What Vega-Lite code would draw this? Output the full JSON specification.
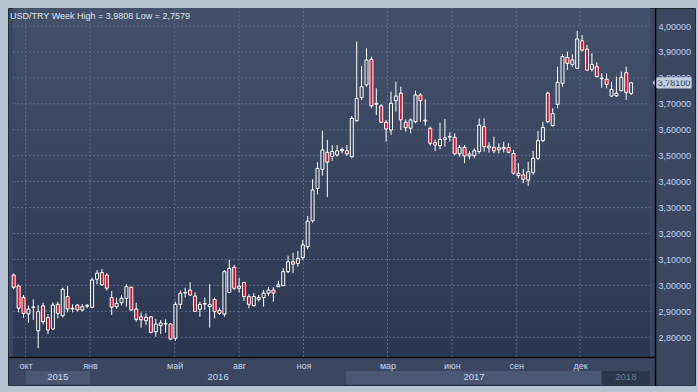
{
  "$schema": "https://vega.github.io/schema/vega-lite/v6.json",
  "width": 687,
  "height": 377,
  "autosize": {"type": "none"},
  "padding": {"left": 8, "top": 8, "right": 3, "bottom": 7},
  "background": "#b7c3d3",
  "config": {
    "view": {"fill": "#3b4761", "stroke": "#222c3b", "strokeWidth": 1},
    "font": "Liberation Sans",
    "text": {"font": "Liberation Sans"},
    "axis": {"labelOverlap": false, "labelSeparation": 0, "labelBound": false}
  },
  "title": {
    "text": "USD/TRY Week High = 3,9808 Low = 2,7579",
    "anchor": "start",
    "frame": "group",
    "offset": -13,
    "dx": 2,
    "fontSize": 9,
    "fontWeight": "normal",
    "font": "Liberation Sans",
    "color": "#dbe4f2"
  },
  "datasets": {
    "weekly": [
      {"date": "2015-09-14", "open": 3.040, "high": 3.046, "low": 2.985, "close": 2.993},
      {"date": "2015-09-21", "open": 2.998, "high": 3.004, "low": 2.896, "close": 2.912},
      {"date": "2015-09-28", "open": 2.954, "high": 2.963, "low": 2.875, "close": 2.892},
      {"date": "2015-10-05", "open": 2.890, "high": 2.922, "low": 2.856, "close": 2.909},
      {"date": "2015-10-12", "open": 2.915, "high": 2.946, "low": 2.867, "close": 2.917},
      {"date": "2015-10-19", "open": 2.825, "high": 2.924, "low": 2.7579, "close": 2.899},
      {"date": "2015-10-26", "open": 2.921, "high": 2.933, "low": 2.850, "close": 2.860},
      {"date": "2015-11-02", "open": 2.876, "high": 2.889, "low": 2.812, "close": 2.828},
      {"date": "2015-11-09", "open": 2.832, "high": 2.935, "low": 2.828, "close": 2.924},
      {"date": "2015-11-16", "open": 2.927, "high": 2.937, "low": 2.873, "close": 2.892},
      {"date": "2015-11-23", "open": 2.883, "high": 2.991, "low": 2.877, "close": 2.985},
      {"date": "2015-11-30", "open": 2.957, "high": 2.998, "low": 2.896, "close": 2.909},
      {"date": "2015-12-07", "open": 2.909, "high": 2.927, "low": 2.896, "close": 2.912},
      {"date": "2015-12-14", "open": 2.924, "high": 2.928, "low": 2.899, "close": 2.905},
      {"date": "2015-12-21", "open": 2.905, "high": 2.928, "low": 2.899, "close": 2.918},
      {"date": "2015-12-28", "open": 2.920, "high": 2.928, "low": 2.912, "close": 2.923},
      {"date": "2016-01-04", "open": 2.916, "high": 3.030, "low": 2.912, "close": 3.021},
      {"date": "2016-01-11", "open": 3.024, "high": 3.059, "low": 3.004, "close": 3.047},
      {"date": "2016-01-18", "open": 3.050, "high": 3.063, "low": 2.999, "close": 3.002},
      {"date": "2016-01-25", "open": 3.040, "high": 3.047, "low": 2.980, "close": 2.989},
      {"date": "2016-02-01", "open": 2.953, "high": 2.978, "low": 2.886, "close": 2.916},
      {"date": "2016-02-08", "open": 2.918, "high": 2.953, "low": 2.909, "close": 2.931},
      {"date": "2016-02-15", "open": 2.933, "high": 2.963, "low": 2.922, "close": 2.950},
      {"date": "2016-02-22", "open": 2.950, "high": 3.004, "low": 2.918, "close": 2.995},
      {"date": "2016-02-29", "open": 2.993, "high": 2.995, "low": 2.902, "close": 2.905},
      {"date": "2016-03-07", "open": 2.909, "high": 2.933, "low": 2.860, "close": 2.869},
      {"date": "2016-03-14", "open": 2.879, "high": 2.896, "low": 2.837, "close": 2.867},
      {"date": "2016-03-21", "open": 2.864, "high": 2.892, "low": 2.847, "close": 2.877},
      {"date": "2016-03-28", "open": 2.879, "high": 2.882, "low": 2.815, "close": 2.819},
      {"date": "2016-04-04", "open": 2.821, "high": 2.871, "low": 2.802, "close": 2.851},
      {"date": "2016-04-11", "open": 2.845, "high": 2.867, "low": 2.813, "close": 2.855},
      {"date": "2016-04-18", "open": 2.851, "high": 2.869, "low": 2.818, "close": 2.853},
      {"date": "2016-04-25", "open": 2.851, "high": 2.855, "low": 2.789, "close": 2.793},
      {"date": "2016-05-02", "open": 2.796, "high": 2.937, "low": 2.786, "close": 2.927},
      {"date": "2016-05-09", "open": 2.927, "high": 2.980, "low": 2.909, "close": 2.970},
      {"date": "2016-05-16", "open": 2.971, "high": 2.991, "low": 2.953, "close": 2.973},
      {"date": "2016-05-23", "open": 2.982, "high": 3.012, "low": 2.959, "close": 2.963},
      {"date": "2016-05-30", "open": 2.959, "high": 2.973, "low": 2.899, "close": 2.900},
      {"date": "2016-06-06", "open": 2.908, "high": 2.937, "low": 2.879, "close": 2.927},
      {"date": "2016-06-13", "open": 2.928, "high": 2.953, "low": 2.905, "close": 2.930},
      {"date": "2016-06-20", "open": 2.918, "high": 3.005, "low": 2.837, "close": 2.926},
      {"date": "2016-06-27", "open": 2.946, "high": 2.953, "low": 2.873, "close": 2.899},
      {"date": "2016-07-04", "open": 2.904, "high": 2.914, "low": 2.886, "close": 2.892},
      {"date": "2016-07-11", "open": 2.889, "high": 3.059, "low": 2.879, "close": 3.053},
      {"date": "2016-07-18", "open": 2.973, "high": 3.098, "low": 2.970, "close": 3.066},
      {"date": "2016-07-25", "open": 3.070, "high": 3.079, "low": 2.982, "close": 2.989},
      {"date": "2016-08-01", "open": 2.989, "high": 3.030, "low": 2.972, "close": 2.997},
      {"date": "2016-08-08", "open": 3.011, "high": 3.014, "low": 2.940, "close": 2.957},
      {"date": "2016-08-15", "open": 2.957, "high": 2.966, "low": 2.912, "close": 2.927},
      {"date": "2016-08-22", "open": 2.922, "high": 2.970, "low": 2.918, "close": 2.957},
      {"date": "2016-08-29", "open": 2.946, "high": 2.963, "low": 2.937, "close": 2.953},
      {"date": "2016-09-05", "open": 2.953, "high": 2.982, "low": 2.918, "close": 2.970},
      {"date": "2016-09-12", "open": 2.970, "high": 2.993, "low": 2.959, "close": 2.982},
      {"date": "2016-09-19", "open": 2.982, "high": 2.993, "low": 2.937, "close": 2.970},
      {"date": "2016-09-26", "open": 2.995, "high": 3.018, "low": 2.993, "close": 3.002},
      {"date": "2016-10-03", "open": 2.999, "high": 3.066, "low": 2.997, "close": 3.053},
      {"date": "2016-10-10", "open": 3.053, "high": 3.115, "low": 3.047, "close": 3.091},
      {"date": "2016-10-17", "open": 3.091, "high": 3.126, "low": 3.047, "close": 3.082},
      {"date": "2016-10-24", "open": 3.085, "high": 3.133, "low": 3.072, "close": 3.104},
      {"date": "2016-10-31", "open": 3.107, "high": 3.175, "low": 3.098, "close": 3.156},
      {"date": "2016-11-07", "open": 3.149, "high": 3.268, "low": 3.139, "close": 3.248},
      {"date": "2016-11-14", "open": 3.249, "high": 3.409, "low": 3.242, "close": 3.368},
      {"date": "2016-11-21", "open": 3.374, "high": 3.475, "low": 3.351, "close": 3.451},
      {"date": "2016-11-28", "open": 3.447, "high": 3.596, "low": 3.423, "close": 3.522},
      {"date": "2016-12-05", "open": 3.513, "high": 3.561, "low": 3.340, "close": 3.475},
      {"date": "2016-12-12", "open": 3.497, "high": 3.541, "low": 3.480, "close": 3.516},
      {"date": "2016-12-19", "open": 3.503, "high": 3.541, "low": 3.496, "close": 3.519},
      {"date": "2016-12-26", "open": 3.519, "high": 3.532, "low": 3.509, "close": 3.524},
      {"date": "2017-01-02", "open": 3.519, "high": 3.541, "low": 3.499, "close": 3.507},
      {"date": "2017-01-09", "open": 3.496, "high": 3.653, "low": 3.490, "close": 3.644},
      {"date": "2017-01-16", "open": 3.635, "high": 3.940, "low": 3.631, "close": 3.721},
      {"date": "2017-01-23", "open": 3.724, "high": 3.846, "low": 3.715, "close": 3.766},
      {"date": "2017-01-30", "open": 3.773, "high": 3.914, "low": 3.766, "close": 3.869},
      {"date": "2017-02-06", "open": 3.872, "high": 3.882, "low": 3.683, "close": 3.692},
      {"date": "2017-02-13", "open": 3.702, "high": 3.760, "low": 3.657, "close": 3.698},
      {"date": "2017-02-20", "open": 3.692, "high": 3.699, "low": 3.627, "close": 3.629},
      {"date": "2017-02-27", "open": 3.629, "high": 3.638, "low": 3.554, "close": 3.603},
      {"date": "2017-03-06", "open": 3.599, "high": 3.747, "low": 3.580, "close": 3.702},
      {"date": "2017-03-13", "open": 3.712, "high": 3.785, "low": 3.670, "close": 3.730},
      {"date": "2017-03-20", "open": 3.741, "high": 3.766, "low": 3.599, "close": 3.638},
      {"date": "2017-03-27", "open": 3.629, "high": 3.640, "low": 3.593, "close": 3.608},
      {"date": "2017-04-03", "open": 3.606, "high": 3.644, "low": 3.586, "close": 3.638},
      {"date": "2017-04-10", "open": 3.631, "high": 3.751, "low": 3.625, "close": 3.734},
      {"date": "2017-04-17", "open": 3.734, "high": 3.741, "low": 3.631, "close": 3.712},
      {"date": "2017-04-24", "open": 3.637, "high": 3.717, "low": 3.616, "close": 3.634},
      {"date": "2017-05-01", "open": 3.606, "high": 3.612, "low": 3.539, "close": 3.548},
      {"date": "2017-05-08", "open": 3.550, "high": 3.563, "low": 3.518, "close": 3.541},
      {"date": "2017-05-15", "open": 3.539, "high": 3.627, "low": 3.525, "close": 3.563},
      {"date": "2017-05-22", "open": 3.563, "high": 3.641, "low": 3.535, "close": 3.569},
      {"date": "2017-05-29", "open": 3.572, "high": 3.590, "low": 3.554, "close": 3.574},
      {"date": "2017-06-05", "open": 3.571, "high": 3.586, "low": 3.503, "close": 3.507},
      {"date": "2017-06-12", "open": 3.507, "high": 3.541, "low": 3.496, "close": 3.532},
      {"date": "2017-06-19", "open": 3.532, "high": 3.541, "low": 3.471, "close": 3.499},
      {"date": "2017-06-26", "open": 3.499, "high": 3.519, "low": 3.486, "close": 3.507},
      {"date": "2017-07-03", "open": 3.500, "high": 3.528, "low": 3.490, "close": 3.519},
      {"date": "2017-07-10", "open": 3.516, "high": 3.644, "low": 3.507, "close": 3.618},
      {"date": "2017-07-17", "open": 3.612, "high": 3.644, "low": 3.516, "close": 3.535},
      {"date": "2017-07-24", "open": 3.530, "high": 3.552, "low": 3.512, "close": 3.537},
      {"date": "2017-07-31", "open": 3.532, "high": 3.573, "low": 3.509, "close": 3.519},
      {"date": "2017-08-07", "open": 3.523, "high": 3.548, "low": 3.509, "close": 3.531},
      {"date": "2017-08-14", "open": 3.532, "high": 3.554, "low": 3.512, "close": 3.526},
      {"date": "2017-08-21", "open": 3.532, "high": 3.548, "low": 3.509, "close": 3.513},
      {"date": "2017-08-28", "open": 3.509, "high": 3.522, "low": 3.426, "close": 3.432},
      {"date": "2017-09-04", "open": 3.432, "high": 3.471, "low": 3.413, "close": 3.423},
      {"date": "2017-09-11", "open": 3.426, "high": 3.449, "low": 3.394, "close": 3.409},
      {"date": "2017-09-18", "open": 3.406, "high": 3.477, "low": 3.384, "close": 3.438},
      {"date": "2017-09-25", "open": 3.436, "high": 3.518, "low": 3.426, "close": 3.490},
      {"date": "2017-10-02", "open": 3.490, "high": 3.595, "low": 3.483, "close": 3.558},
      {"date": "2017-10-09", "open": 3.558, "high": 3.631, "low": 3.552, "close": 3.609},
      {"date": "2017-10-16", "open": 3.741, "high": 3.747, "low": 3.625, "close": 3.631},
      {"date": "2017-10-23", "open": 3.616, "high": 3.683, "low": 3.612, "close": 3.663},
      {"date": "2017-10-30", "open": 3.698, "high": 3.843, "low": 3.683, "close": 3.783},
      {"date": "2017-11-06", "open": 3.779, "high": 3.891, "low": 3.766, "close": 3.882},
      {"date": "2017-11-13", "open": 3.879, "high": 3.901, "low": 3.830, "close": 3.856},
      {"date": "2017-11-20", "open": 3.852, "high": 3.891, "low": 3.843, "close": 3.869},
      {"date": "2017-11-27", "open": 3.837, "high": 3.9808, "low": 3.834, "close": 3.950},
      {"date": "2017-12-04", "open": 3.943, "high": 3.965, "low": 3.901, "close": 3.907},
      {"date": "2017-12-11", "open": 3.911, "high": 3.927, "low": 3.827, "close": 3.830},
      {"date": "2017-12-18", "open": 3.833, "high": 3.895, "low": 3.824, "close": 3.852},
      {"date": "2017-12-25", "open": 3.843, "high": 3.860, "low": 3.801, "close": 3.805},
      {"date": "2018-01-01", "open": 3.799, "high": 3.818, "low": 3.762, "close": 3.797},
      {"date": "2018-01-08", "open": 3.795, "high": 3.818, "low": 3.760, "close": 3.775},
      {"date": "2018-01-15", "open": 3.730, "high": 3.785, "low": 3.727, "close": 3.756},
      {"date": "2018-01-22", "open": 3.731, "high": 3.805, "low": 3.727, "close": 3.741},
      {"date": "2018-01-29", "open": 3.751, "high": 3.824, "low": 3.747, "close": 3.802},
      {"date": "2018-02-05", "open": 3.820, "high": 3.843, "low": 3.715, "close": 3.744},
      {"date": "2018-02-12", "open": 3.740, "high": 3.785, "low": 3.734, "close": 3.781}
    ],
    "years": [
      {"year": "2015", "start": "2015-10-01", "end": "2016-01-01"},
      {"year": "2016", "start": "2016-01-01", "end": "2017-01-01"},
      {"year": "2017", "start": "2017-01-01", "end": "2018-01-01"},
      {"year": "2018", "start": "2018-01-01", "end": "2018-03-11"}
    ],
    "months": [
      {"m": "2015-10-01"}, {"m": "2016-01-01"}, {"m": "2016-05-01"}, {"m": "2016-08-01"},
      {"m": "2016-11-01"}, {"m": "2017-03-01"}, {"m": "2017-06-01"}, {"m": "2017-09-01"},
      {"m": "2017-12-01"}
    ],
    "levels": [
      {"v": 2.8}, {"v": 2.9}, {"v": 3.0}, {"v": 3.1}, {"v": 3.2}, {"v": 3.3}, {"v": 3.4},
      {"v": 3.5}, {"v": 3.6}, {"v": 3.7}, {"v": 3.8}, {"v": 3.9}, {"v": 4.0}
    ]
  },
  "layer": [
    {
      "data": {"values": [{}]},
      "mark": {
        "type": "rect",
        "fill": {
          "gradient": "linear", "x1": 0, "y1": 0, "x2": 0, "y2": 1,
          "stops": [{"offset": 0, "color": "#44516b"}, {"offset": 1, "color": "#2b3751"}]
        }
      },
      "encoding": {
        "x": {
          "datum": {"year": 2015, "month": 9, "date": 13, "utc": true},
          "type": "temporal",
          "title": null,
          "scale": {
            "type": "utc",
            "domain": [{"year": 2015, "month": 9, "date": 13, "utc": true}, {"year": 2018, "month": 3, "date": 11, "utc": true}],
            "range": [0, 647]
          },
          "axis": {
            "orient": "bottom",
            "offset": -28,
            "tickCount": 30,
            "values": [
              {"year": 2015, "month": 10, "date": 1, "utc": true},
              {"year": 2016, "month": 1, "date": 1, "utc": true},
              {"year": 2016, "month": 5, "date": 1, "utc": true},
              {"year": 2016, "month": 8, "date": 1, "utc": true},
              {"year": 2016, "month": 11, "date": 1, "utc": true},
              {"year": 2017, "month": 3, "date": 1, "utc": true},
              {"year": 2017, "month": 6, "date": 1, "utc": true},
              {"year": 2017, "month": 9, "date": 1, "utc": true},
              {"year": 2017, "month": 12, "date": 1, "utc": true}
            ],
            "labelExpr": "['янв','фев','мар','апр','май','июн','июл','авг','сен','окт','ноя','дек'][utcmonth(datum.value)]",
            "grid": false,
            "ticks": false,
            "domain": true,
            "domainColor": "#000000",
            "domainWidth": 1.5,
            "labelFlush": false,
            "labelOverlap": false,
            "labelPadding": 4,
            "labelFont": "Liberation Sans",
            "labelFontSize": 9,
            "labelColor": "#c3d3ea",
            "zindex": 1
          }
        },
        "x2": {"datum": {"year": 2018, "month": 3, "date": 11, "utc": true}},
        "y": {
          "datum": 2.724,
          "type": "quantitative",
          "title": null,
          "scale": {"domain": [2.616, 4.0694], "nice": false, "zero": false},
          "axis": {
            "orient": "right",
            "offset": -40,
            "tickCount": 30,
            "values": [2.8, 2.9, 3.0, 3.1, 3.2, 3.3, 3.4, 3.5, 3.6, 3.7, 3.8, 3.9, 4.0],
            "labelExpr": "replace(format(datum.value, '.5f'), '.', ',')",
            "grid": false,
            "ticks": false,
            "domain": true,
            "domainColor": "#000000",
            "domainWidth": 1.5,
            "labelAlign": "left",
            "labelBaseline": "middle",
            "labelOverlap": false,
            "labelFlush": false,
            "labelPadding": 3,
            "labelFont": "Liberation Sans",
            "labelFontSize": 9,
            "labelColor": "#c0d3ef",
            "zindex": 1
          }
        },
        "y2": {"datum": 4.0694}
      }
    },
    {
      "data": {"name": "months"},
      "mark": {"type": "rule", "color": "#5b6b88", "strokeWidth": 1, "strokeDash": [2, 2]},
      "encoding": {
        "x": {"field": "m", "type": "temporal", "title": null},
        "y": {"datum": 2.724, "type": "quantitative", "title": null},
        "y2": {"datum": 4.0694}
      }
    },
    {
      "data": {"name": "levels"},
      "mark": {"type": "rule", "color": "#5b6b88", "strokeWidth": 1, "strokeDash": [2, 2]},
      "encoding": {
        "y": {"field": "v", "type": "quantitative", "title": null},
        "x": {"datum": {"year": 2015, "month": 9, "date": 13, "utc": true}, "type": "temporal", "title": null},
        "x2": {"datum": {"year": 2018, "month": 3, "date": 11, "utc": true}}
      }
    },
    {
      "data": {"name": "years"},
      "mark": {"type": "rect"},
      "encoding": {
        "x": {"field": "start", "type": "temporal", "title": null},
        "x2": {"field": "end"},
        "y": {"datum": 2.618, "type": "quantitative", "title": null},
        "y2": {"datum": 2.670},
        "fill": {
          "field": "year",
          "type": "nominal",
          "legend": null,
          "scale": {"domain": ["2015", "2016", "2017", "2018"], "range": ["#4b5874", "#3b4761", "#4b5874", "#2b364c"]}
        }
      }
    },
    {
      "data": {"name": "years"},
      "transform": [
        {"calculate": "(+toDate(datum.start) + +toDate(datum.end)) / 2", "as": "mid"}
      ],
      "mark": {"type": "text", "fontSize": 9.5, "baseline": "middle", "align": "center", "font": "Liberation Sans"},
      "encoding": {
        "x": {"field": "mid", "type": "temporal", "title": null},
        "y": {"datum": 2.645, "type": "quantitative", "title": null},
        "text": {"field": "year"},
        "color": {"condition": {"test": "datum.year == '2018'", "value": "#6e7c94"}, "value": "#c9d6ea"}
      }
    },
    {
      "data": {"name": "weekly"},
      "mark": {"type": "rule", "color": "#ffffff", "strokeWidth": 1, "clip": true},
      "encoding": {
        "x": {"field": "date", "type": "temporal", "title": null},
        "y": {"field": "low", "type": "quantitative", "title": null},
        "y2": {"field": "open"}
      }
    },
    {
      "data": {"name": "weekly"},
      "mark": {"type": "rule", "color": "#ffffff", "strokeWidth": 1, "clip": true},
      "encoding": {
        "x": {"field": "date", "type": "temporal", "title": null},
        "y": {"field": "close", "type": "quantitative", "title": null},
        "y2": {"field": "high"}
      }
    },
    {
      "data": {"name": "weekly"},
      "mark": {"type": "bar", "width": 3, "stroke": "#ffffff", "strokeWidth": 1, "clip": true},
      "encoding": {
        "x": {"field": "date", "type": "temporal", "title": null},
        "y": {"field": "open", "type": "quantitative", "title": null},
        "y2": {"field": "close"},
        "fill": {"condition": {"test": "datum.close < datum.open", "value": "#e3112f"}, "value": "transparent"}
      }
    },
    {
      "data": {"name": "weekly"},
      "transform": [
        {"window": [{"op": "row_number", "as": "rn"}], "sort": [{"field": "date", "order": "descending"}]},
        {"filter": "datum.rn == 1"}
      ],
      "mark": {
        "type": "point",
        "shape": "M-1,0L-0.79,-0.29L1,-0.29L1,0.29L-0.79,0.29Z",
        "size": 1521,
        "filled": true,
        "fill": "#c3cddc",
        "opacity": 1,
        "strokeWidth": 0,
        "xOffset": 41
      },
      "encoding": {
        "x": {"field": "date", "type": "temporal", "title": null},
        "y": {"field": "close", "type": "quantitative", "title": null}
      }
    },
    {
      "data": {"name": "weekly"},
      "transform": [
        {"window": [{"op": "row_number", "as": "rn"}], "sort": [{"field": "date", "order": "descending"}]},
        {"filter": "datum.rn == 1"},
        {"calculate": "replace(format(datum.close, '.5f'), '.', ',')", "as": "label"}
      ],
      "mark": {"type": "text", "dx": 43, "dy": 0.5, "fontSize": 9, "align": "center", "baseline": "middle", "color": "#2c3c55", "font": "Liberation Sans"},
      "encoding": {
        "x": {"field": "date", "type": "temporal", "title": null},
        "y": {"field": "close", "type": "quantitative", "title": null},
        "text": {"field": "label"}
      }
    }
  ]
}
